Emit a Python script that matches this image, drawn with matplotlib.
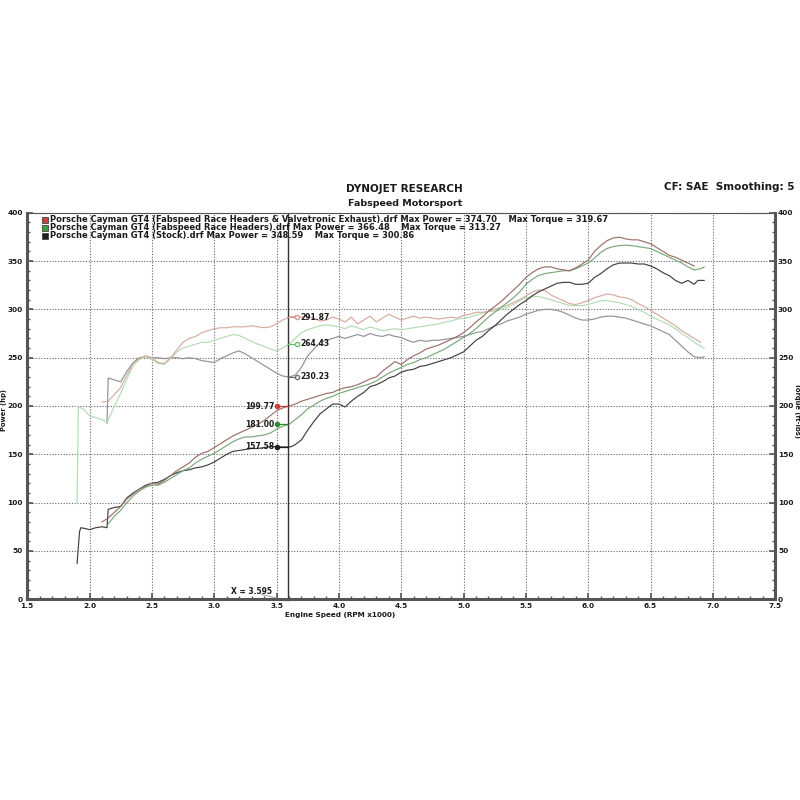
import matplotlib
matplotlib.use("Agg")
import matplotlib.pyplot as plt
from matplotlib.ticker import MultipleLocator

# ---------------- data ----------------
stock_pw_rpm = [1.90,1.92,1.93,1.97,2.00,2.05,2.10,2.14,2.15,2.20,2.25,2.30,2.35,2.40,2.45,2.50,2.55,2.60,2.65,2.70,2.75,2.80,2.85,2.90,2.95,3.00,3.05,3.10,3.15,3.20,3.25,3.30,3.35,3.40,3.45,3.50,3.55,3.60,3.62,3.65,3.70,3.75,3.80,3.85,3.90,3.95,4.00,4.05,4.10,4.15,4.20,4.25,4.30,4.35,4.40,4.45,4.50,4.55,4.60,4.65,4.70,4.75,4.80,4.85,4.90,4.95,5.00,5.05,5.10,5.15,5.20,5.25,5.30,5.35,5.40,5.45,5.50,5.55,5.60,5.65,5.70,5.75,5.80,5.85,5.90,5.95,6.00,6.05,6.10,6.15,6.20,6.25,6.30,6.35,6.40,6.45,6.50,6.55,6.60,6.65,6.70,6.75,6.80,6.85,6.88,6.93]
stock_pw = [37,70,74,73,72,74,75,74,93,95,96,105,110,114,118,120,121,124,128,131,133,134,136,137,139,142,146,150,153,154,155,156,156,157,158,158,157.6,157.6,158,160,165,175,184,192,197,202,202,199,205,210,214,220,222,225,229,231,235,237,238,241,242,244,246,248,250,253,256,262,268,272,278,283,289,295,300,305,309,314,318,321,324,327,328,328,326,326,327,333,337,342,346,348,348,348,347,347,345,342,338,335,330,327,330,326,330,330]

red_pw_rpm = [2.10,2.15,2.20,2.25,2.30,2.35,2.40,2.45,2.50,2.55,2.60,2.65,2.70,2.75,2.80,2.85,2.90,2.95,3.00,3.05,3.10,3.15,3.20,3.25,3.30,3.35,3.40,3.45,3.50,3.55,3.60,3.65,3.70,3.75,3.80,3.85,3.90,3.95,4.00,4.05,4.10,4.15,4.20,4.25,4.30,4.35,4.40,4.45,4.50,4.55,4.60,4.65,4.70,4.75,4.80,4.85,4.90,4.95,5.00,5.05,5.10,5.15,5.20,5.25,5.30,5.35,5.40,5.45,5.50,5.55,5.60,5.65,5.70,5.75,5.80,5.85,5.90,5.95,6.00,6.05,6.10,6.15,6.20,6.25,6.30,6.35,6.40,6.45,6.50,6.55,6.60,6.65,6.70,6.75,6.80,6.85]
red_pw = [80,84,90,96,104,109,114,117,120,119,123,128,133,137,141,147,151,153,157,161,165,169,172,175,178,181,185,190,195,198,200,202,205,207,209,211,213,214,217,219,220,222,225,228,230,236,241,246,243,248,252,255,259,261,263,266,269,272,276,281,287,292,298,303,308,314,320,326,333,338,342,344,344,342,341,340,343,347,351,360,366,371,374,374.7,373,372,372,370,368,364,360,356,354,351,348,345]

grn_pw_rpm = [2.15,2.20,2.25,2.30,2.35,2.40,2.45,2.50,2.55,2.60,2.65,2.70,2.75,2.80,2.85,2.90,2.95,3.00,3.05,3.10,3.15,3.20,3.25,3.30,3.35,3.40,3.45,3.50,3.55,3.60,3.65,3.70,3.75,3.80,3.85,3.90,3.95,4.00,4.05,4.10,4.15,4.20,4.25,4.30,4.35,4.40,4.45,4.50,4.55,4.60,4.65,4.70,4.75,4.80,4.85,4.90,4.95,5.00,5.05,5.10,5.15,5.20,5.25,5.30,5.35,5.40,5.45,5.50,5.55,5.60,5.65,5.70,5.75,5.80,5.85,5.90,5.95,6.00,6.05,6.10,6.15,6.20,6.25,6.30,6.35,6.40,6.45,6.50,6.55,6.60,6.65,6.70,6.75,6.80,6.85,6.90,6.93]
grn_pw = [78,86,92,100,107,112,116,118,118,121,125,129,133,136,141,145,148,151,155,159,163,166,168,168,169,170,172,176,179,181,186,191,197,201,205,208,210,213,215,217,219,221,223,226,230,234,237,240,243,245,248,250,253,256,259,263,267,271,275,280,286,292,297,302,307,312,318,326,331,335,337,338,339,340,340,342,345,348,353,359,363,365,366,366.5,366,365,364,363,360,357,354,351,348,344,341,342,344]

red_tq_rpm = [2.10,2.15,2.20,2.25,2.30,2.35,2.40,2.45,2.50,2.55,2.60,2.65,2.70,2.75,2.80,2.85,2.90,2.95,3.00,3.05,3.10,3.15,3.20,3.25,3.30,3.35,3.40,3.45,3.50,3.55,3.60,3.65,3.70,3.75,3.80,3.85,3.90,3.95,4.00,4.05,4.10,4.15,4.20,4.25,4.30,4.35,4.40,4.45,4.50,4.55,4.60,4.65,4.70,4.75,4.80,4.85,4.90,4.95,5.00,5.05,5.10,5.15,5.20,5.25,5.30,5.35,5.40,5.45,5.50,5.55,5.60,5.65,5.70,5.75,5.80,5.85,5.90,5.95,6.00,6.05,6.10,6.15,6.20,6.25,6.30,6.35,6.40,6.45,6.50,6.55,6.60,6.65,6.70,6.75,6.80,6.85,6.90]
red_tq = [204,205,212,219,232,244,249,252,250,245,244,250,258,266,270,272,276,278,280,281,281,282,282,282,283,282,281,282,285,289,292,293,292,293,291,288,289,292,290,287,292,285,289,293,287,291,295,292,289,291,293,291,292,291,290,291,292,291,294,295,297,297,298,300,302,304,307,310,314,318,320,319.7,315,312,309,306,305,307,309,312,314,316,315,313,312,310,306,303,299,295,291,287,283,278,274,270,266]

grn_tq_rpm = [1.90,1.91,1.95,2.00,2.05,2.10,2.14,2.20,2.25,2.30,2.35,2.40,2.45,2.50,2.55,2.60,2.65,2.70,2.75,2.80,2.85,2.90,2.95,3.00,3.05,3.10,3.15,3.20,3.25,3.30,3.35,3.40,3.45,3.50,3.55,3.60,3.65,3.70,3.75,3.80,3.85,3.90,3.95,4.00,4.05,4.10,4.15,4.20,4.25,4.30,4.35,4.40,4.45,4.50,4.55,4.60,4.65,4.70,4.75,4.80,4.85,4.90,4.95,5.00,5.05,5.10,5.15,5.20,5.25,5.30,5.35,5.40,5.45,5.50,5.55,5.60,5.65,5.70,5.75,5.80,5.85,5.90,5.95,6.00,6.05,6.10,6.15,6.20,6.25,6.30,6.35,6.40,6.45,6.50,6.55,6.60,6.65,6.70,6.75,6.80,6.85,6.90,6.93]
grn_tq = [100,199,197,190,188,186,183,200,213,228,242,248,251,248,244,243,249,256,260,262,264,266,266,268,270,272,274,273,270,267,264,262,259,257,260,264,270,276,279,281,283,284,283,282,280,283,281,279,282,280,278,279,280,279,280,281,282,283,284,285,287,288,290,291,292,294,296,298,298,300,302,305,309,312,313,313.3,312,310,308,306,304,304,304,305,307,309,309,308,307,305,303,300,297,293,290,287,284,280,275,271,266,262,260]

stock_tq_rpm = [2.14,2.15,2.20,2.25,2.30,2.35,2.40,2.45,2.50,2.55,2.60,2.65,2.70,2.75,2.80,2.85,2.90,2.95,3.00,3.05,3.10,3.15,3.20,3.25,3.30,3.35,3.40,3.45,3.50,3.55,3.60,3.65,3.70,3.75,3.80,3.85,3.90,3.95,4.00,4.05,4.10,4.15,4.20,4.25,4.30,4.35,4.40,4.45,4.50,4.55,4.60,4.65,4.70,4.75,4.80,4.85,4.90,4.95,5.00,5.05,5.10,5.15,5.20,5.25,5.30,5.35,5.40,5.45,5.50,5.55,5.60,5.65,5.70,5.75,5.80,5.85,5.90,5.95,6.00,6.05,6.10,6.15,6.20,6.25,6.30,6.35,6.40,6.45,6.50,6.55,6.60,6.65,6.70,6.75,6.80,6.85,6.90,6.93]
stock_tq = [182,229,227,225,236,245,250,251,250,250,249,250,250,249,250,249,247,246,245,249,252,255,257,254,250,246,242,238,234,231,230,232,240,252,259,266,268,270,272,270,272,274,272,275,273,272,274,272,271,268,266,268,267,268,268,269,270,271,272,274,276,277,280,283,285,288,290,292,295,297,299,300,300,299,297,294,291,289,289,290,292,293,293,292,291,289,287,285,283,280,277,274,268,262,256,251,250,251]

legend_labels = [
    "Porsche Cayman GT4 (Fabspeed Race Headers & Valvetronic Exhaust).drf Max Power = 374.70    Max Torque = 319.67",
    "Porsche Cayman GT4 (Fabspeed Race Headers).drf Max Power = 366.48    Max Torque = 313.27",
    "Porsche Cayman GT4 (Stock).drf Max Power = 348.59    Max Torque = 300.86",
]
cursor_x = 3.595
power_at_cursor = [199.77, 181.00, 157.58]
torque_at_cursor = [291.87, 264.43, 230.23]
x_ticks = [1.5, 2.0, 2.5, 3.0, 3.5, 4.0, 4.5, 5.0, 5.5, 6.0, 6.5, 7.0, 7.5]
y_ticks = [0, 50, 100, 150, 200, 250, 300, 350, 400]

# ---------------- styling ----------------
c_red_pw, c_red_tq = "#9a7068", "#d6aca2"
c_grn_pw, c_grn_tq = "#7aa87a", "#b4dcb4"
c_stk_pw, c_stk_tq = "#404040", "#939099"
mk_cols = ["#d03a3a", "#2f8a2f", "#202020"]
tq_mk_cols = ["#d89890", "#6cc06c", "#707070"]
txt = "#1a1a1a"

fig = plt.figure(figsize=(8, 8), dpi=100)
ax = fig.add_axes([0.034, 0.251, 0.935, 0.483])
ax.set_xlim(1.5, 7.5)
ax.set_ylim(0, 400)

lw = 0.85
ax.plot(stock_tq_rpm, stock_tq, color=c_stk_tq, lw=lw)
ax.plot(grn_tq_rpm, grn_tq, color=c_grn_tq, lw=lw)
ax.plot(red_tq_rpm, red_tq, color=c_red_tq, lw=lw)
ax.plot(stock_pw_rpm, stock_pw, color=c_stk_pw, lw=lw)
ax.plot(grn_pw_rpm, grn_pw, color=c_grn_pw, lw=lw)
ax.plot(red_pw_rpm, red_pw, color=c_red_pw, lw=lw)

# grid
ax.set_xticks(x_ticks)
ax.set_yticks(y_ticks)
ax.xaxis.set_minor_locator(MultipleLocator(0.1))
ax.yaxis.set_minor_locator(MultipleLocator(10))
ax.grid(True, which="major", color="#666666", lw=0.8, linestyle=(0, (1, 1.5)))
ax.set_xticklabels([f"{v:.1f}" for v in x_ticks])
ax.tick_params(axis="both", which="major", labelsize=5.3, colors="#555555",
               labelcolor=txt, length=4, width=1.2, direction="in")
ax.tick_params(axis="both", which="minor", colors="#555555", length=2.5, width=1, direction="in")
ax.tick_params(axis="x", pad=3)
ax.tick_params(axis="y", pad=3)
for lab in ax.get_xticklabels() + ax.get_yticklabels():
    lab.set_fontweight("bold")

for s in ["left", "bottom"]:
    ax.spines[s].set_linewidth(2.2)
    ax.spines[s].set_color("#555555")
ax.spines["top"].set_linewidth(0.8)
ax.spines["top"].set_color("#555555")
ax.spines["right"].set_linewidth(2.2)
ax.spines["right"].set_color("#555555")

ax2 = ax.twinx()
ax2.set_ylim(0, 400)
ax2.set_yticks(y_ticks)
ax2.yaxis.set_minor_locator(MultipleLocator(10))
ax2.tick_params(axis="y", which="major", labelsize=5.3, colors="#555555",
                labelcolor=txt, length=4, width=1.2, direction="in", pad=2)
ax2.tick_params(axis="y", which="minor", colors="#555555", length=2.5, width=1, direction="in")
for lab in ax2.get_yticklabels():
    lab.set_fontweight("bold")
for s in ax2.spines.values():
    s.set_visible(False)

# cursor
ax.axvline(cursor_x, color="#333333", lw=1.0)
for i, v in enumerate(power_at_cursor):
    ax.plot([3.5, cursor_x], [v, v], color=mk_cols[i], lw=0.9)
    ax.plot([3.5], [v], "o", ms=3, color=mk_cols[i])
    ax.text(3.48, v, f"{v:.2f}", ha="right", va="center", fontsize=5.5,
            fontweight="bold", color=txt)
for i, v in enumerate(torque_at_cursor):
    ax.plot([cursor_x, 3.665], [v, v], color=tq_mk_cols[i], lw=0.9)
    ax.plot([3.665], [v], "o", ms=3, mfc="white", mec=tq_mk_cols[i], mew=1)
    ax.text(3.69, v, f"{v:.2f}", ha="left", va="center", fontsize=5.5,
            fontweight="bold", color=txt)
ax.plot([3.38, cursor_x], [5, -2], color="#aaaaaa", lw=0.8, clip_on=False)
ax.text(3.3, 8, f"X = {cursor_x:.3f}", ha="center", va="center", fontsize=5.5,
        fontweight="bold", color=txt)

# legend (in-plot text lines)
leg_cols = ["#d04040", "#3aa03a", "#202020"]
for i, lab in enumerate(legend_labels):
    yy = 393 - i * 8.3
    ax.plot([1.64], [yy], "s", ms=4.5, mfc=leg_cols[i], mec="#444444", mew=0.6)
    ax.text(1.68, yy, lab, ha="left", va="center", fontsize=6.0, fontweight="bold",
            color=txt)

# titles and labels
fig.text(0.506, 0.764, "DYNOJET RESEARCH", ha="center", va="center",
         fontsize=7.5, fontweight="bold", color=txt)
fig.text(0.506, 0.746, "Fabspeed Motorsport", ha="center", va="center",
         fontsize=6.8, fontweight="bold", color=txt)
fig.text(0.993, 0.766, "CF: SAE  Smoothing: 5", ha="right", va="center",
         fontsize=7.5, fontweight="bold", color=txt)
fig.text(0.425, 0.231, "Engine Speed (RPM x1000)", ha="center", va="center",
         fontsize=5.2, fontweight="bold", color=txt)
fig.text(0.0045, 0.487, "Power (hp)", ha="center", va="center", rotation=90,
         fontsize=4.9, fontweight="bold", color=txt)
fig.text(0.9965, 0.487, "Torque (ft-lbs)", ha="center", va="center", rotation=-90,
         fontsize=4.9, fontweight="bold", color=txt)

fig.savefig("out.png", dpi=100, facecolor="white")
